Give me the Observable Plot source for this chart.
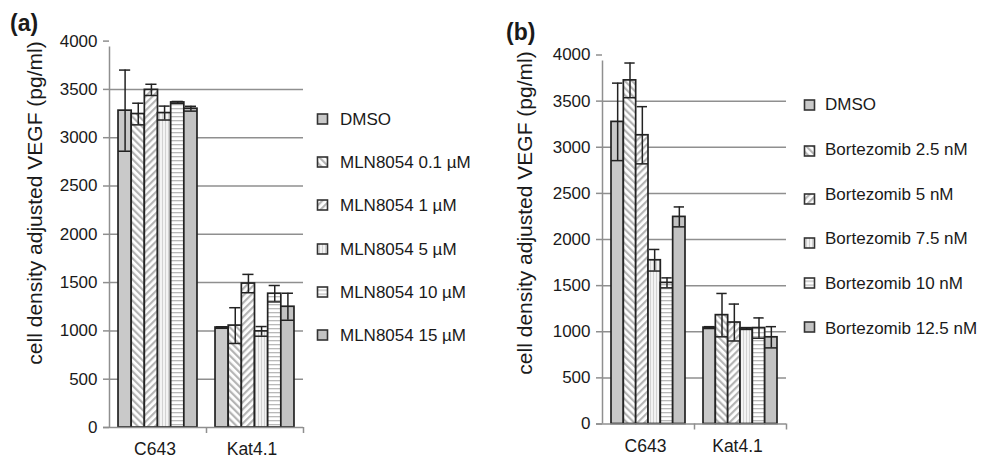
<!DOCTYPE html>
<html><head><meta charset="utf-8">
<script src="https://cdn.jsdelivr.net/npm/d3@7"></script>
<script src="https://cdn.jsdelivr.net/npm/@observablehq/plot@0.6"></script>
<style>
body{margin:0;background:#fff;font-family:"Liberation Sans",Arial,Helvetica,sans-serif;color:#1a1a1a}
#wrap{position:relative;width:1000px;height:458px;overflow:hidden;background:#fff}
.panel{position:absolute;top:0;width:500px;height:458px}
.lab{position:absolute;font-weight:bold;font-size:23px;line-height:1}
.ytitle{position:absolute;font-size:21px;white-space:nowrap;transform:translate(-50%,-50%) rotate(-90deg);line-height:1}
.leg{position:absolute;font-size:17px;white-space:nowrap;line-height:1;transform:translateY(-50%)}
.sw{position:absolute;transform:translateY(-50%)}
</style></head>
<body>
<svg width="0" height="0" style="position:absolute">
  <defs>
    <pattern id="pDown" width="5" height="5" patternUnits="userSpaceOnUse" patternTransform="rotate(-45)">
      <rect width="5" height="5" fill="#ffffff"/><rect width="2.2" height="5" fill="#b4b4b4"/>
    </pattern>
    <pattern id="pUp" width="5" height="5" patternUnits="userSpaceOnUse" patternTransform="rotate(45)">
      <rect width="5" height="5" fill="#ffffff"/><rect width="2.2" height="5" fill="#b4b4b4"/>
    </pattern>
    <pattern id="pVert" width="3" height="3" patternUnits="userSpaceOnUse">
      <rect width="3" height="3" fill="#f3f3f3"/><rect width="1" height="3" fill="#d2d2d2"/>
    </pattern>
    <pattern id="pHoriz" width="4" height="4" patternUnits="userSpaceOnUse">
      <rect width="4" height="4" fill="#ffffff"/><rect width="4" height="1.3" fill="#b9b9b9"/>
    </pattern>
  </defs>
</svg>
<div id="wrap"></div>
<script>
// ---------- data ----------
const categories = ["C643", "Kat4.1"];
const yTicks = [0, 500, 1000, 1500, 2000, 2500, 3000, 3500, 4000];
const gridValues = [500, 1000, 1500, 2000, 2500, 3000, 3500];

const treatmentsA = ["DMSO", "MLN8054 0.1 µM", "MLN8054 1 µM", "MLN8054 5 µM", "MLN8054 10 µM", "MLN8054 15 µM"];
const vegfA_C643 = [3280, 3245, 3495, 3255, 3365, 3300];
const errA_C643  = [420, 112, 58, 72, 10, 25];
const vegfA_Kat  = [1035, 1055, 1490, 995, 1385, 1250];
const errA_Kat   = [8, 185, 95, 50, 85, 140];

const treatmentsB = ["DMSO", "Bortezomib 2.5 nM", "Bortezomib 5 nM", "Bortezomib 7.5 nM", "Bortezomib 10 nM", "Bortezomib 12.5 nM"];
const vegfB_C643 = [3275, 3725, 3130, 1775, 1530, 2245];
const errB_C643  = [420, 188, 310, 117, 54, 108];
const vegfB_Kat  = [1045, 1180, 1100, 1035, 1040, 940];
const errB_Kat   = [10, 235, 200, 10, 110, 115];

// ---------- styles ----------
const fills = ["#c9c9c9", "url(#pDown)", "url(#pUp)", "url(#pVert)", "url(#pHoriz)", "#c3c3c3"];
const ink = "#222";
const axisGrey = "#8f8f8f";

function panel(treatments, means, errs, L) {
  const n = treatments.length, G = L.gap;
  const rows = [];
  categories.forEach((c, i) => treatments.forEach((t, j) => {
    const x1 = i + (G / 2 + j) / (n + G);
    const x2 = x1 + 1 / (n + G);
    rows.push({cat: c, t, j, x1, x2, xc: (x1 + x2) / 2, v: means[i][j], e: errs[i][j]});
  }));
  return Plot.plot({
    width: 500, height: 458,
    marginLeft: L.ml, marginRight: L.mr, marginTop: L.mt, marginBottom: L.mb,
    x: {type: "linear", domain: [0, categories.length], axis: null},
    y: {type: "linear", domain: [0, 4000], axis: null},
    color: {type: "identity"},
    style: {background: "transparent", fontFamily: "'Liberation Sans', Arial, sans-serif", overflow: "visible"},
    marks: [
      Plot.ruleY(gridValues, {stroke: axisGrey, strokeWidth: 1.5}),
      Plot.rect(rows, {x1: "x1", x2: "x2", y1: 0, y2: "v", fill: d => fills[d.j], stroke: ink, strokeWidth: 1.7}),
      Plot.ruleX(rows, {x: "xc", y1: d => d.v - d.e, y2: d => d.v + d.e, stroke: ink, strokeWidth: 1.5}),
      Plot.ruleY(rows, {y: d => d.v + d.e, x1: "x1", x2: "x2", insetLeft: 1, insetRight: 1, stroke: ink, strokeWidth: 1.5}),
      Plot.ruleY(rows, {y: d => d.v - d.e, x1: "x1", x2: "x2", stroke: ink, strokeWidth: 1.5}),
      Plot.ruleX([0], {y1: 0, y2: 4000, insetBottom: -6, stroke: axisGrey, strokeWidth: 1.5}),
      Plot.ruleY([0], {insetLeft: -6, stroke: axisGrey, strokeWidth: 1.5}),
      Plot.ruleY(yTicks, {x1: 0, x2: 0, insetLeft: -6, stroke: axisGrey, strokeWidth: 1.5}),
      Plot.ruleX(d3.range(1, categories.length + 1), {y1: 0, y2: 0, insetBottom: -6, stroke: axisGrey, strokeWidth: 1.5}),
      Plot.text(yTicks, {x: 0, y: d => d, text: d => String(d), textAnchor: "end", dx: -12, fontSize: 17, fill: "#1a1a1a"}),
      Plot.text(categories, {x: (d, i) => i + 0.5, y: 0, text: d => d, dy: 22, dx: -3, fontSize: 17.5, fill: "#1a1a1a"})
    ]
  });
}

const wrap = document.getElementById("wrap");

function addPanel(left, treatments, means, errs, L, label, legend) {
  const div = document.createElement("div");
  div.className = "panel";
  div.style.left = left + "px";
  div.appendChild(panel(treatments, means, errs, L));
  wrap.appendChild(div);

  const lab = document.createElement("div");
  lab.className = "lab";
  lab.style.left = (left + label.x) + "px";
  lab.style.top = label.y + "px";
  lab.textContent = label.text;
  wrap.appendChild(lab);

  const yt = document.createElement("div");
  yt.className = "ytitle";
  yt.style.left = (left + L.titleX) + "px";
  yt.style.top = L.titleY + "px";
  yt.textContent = "cell density adjusted VEGF (pg/ml)";
  wrap.appendChild(yt);

  treatments.forEach((t, j) => {
    const cy = legend.y0 + j * legend.step;
    const sw = document.createElementNS("http://www.w3.org/2000/svg", "svg");
    sw.setAttribute("width", 13); sw.setAttribute("height", 13);
    sw.setAttribute("class", "sw");
    sw.style.left = (left + legend.swX) + "px";
    sw.style.top = (cy + (legend.swDy[j] || 0)) + "px";
    sw.innerHTML = `<rect x="1.5" y="1.5" width="10" height="10" fill="${fills[j]}" stroke="#333" stroke-width="1.6"/>`;
    wrap.appendChild(sw);
    const tx = document.createElement("div");
    tx.className = "leg";
    tx.style.left = (left + legend.textX) + "px";
    tx.style.top = cy + "px";
    tx.textContent = t;
    wrap.appendChild(tx);
  });
}

addPanel(0, treatmentsA, [vegfA_C643, vegfA_Kat], [errA_C643, errA_Kat],
  {ml: 109, mr: 197, mt: 40.6, mb: 31, gap: 1.37, titleX: 34, titleY: 203},
  {text: "(a)", x: 10, y: 12},
  {y0: 119, step: 43.2, swX: 316, textX: 340, swDy: []});

addPanel(500, treatmentsB, [vegfB_C643, vegfB_Kat], [errB_C643, errB_Kat],
  {ml: 102, mr: 214, mt: 54.5, mb: 34.5, gap: 1.46, titleX: 24, titleY: 213},
  {text: "(b)", x: 6, y: 21},
  {y0: 104, step: 44.8, swX: 303, textX: 325, swDy: [1, 2, 5, 5, 0, -1]});
</script>
</body></html>
